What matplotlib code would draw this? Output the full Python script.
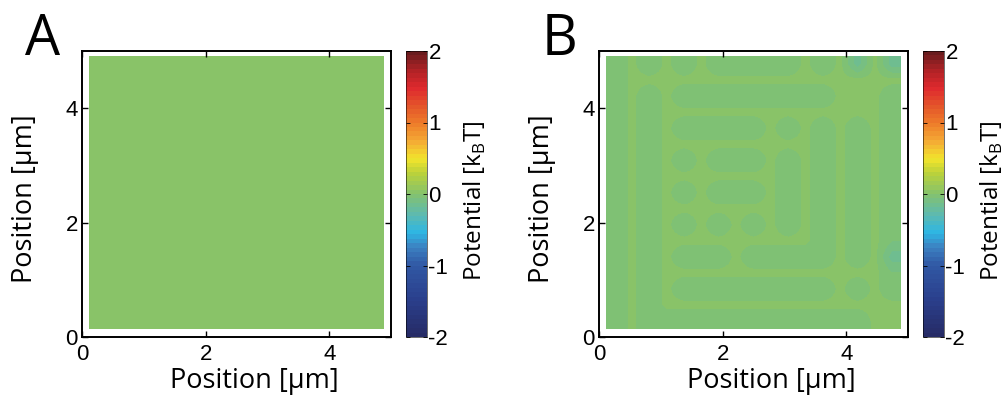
import numpy as np
import matplotlib
matplotlib.use("Agg")
import matplotlib.pyplot as plt
from matplotlib.colors import LinearSegmentedColormap

plt.rcParams['font.family'] = ['Liberation Sans', 'DejaVu Sans']
plt.rcParams['mathtext.fontset'] = 'custom'
plt.rcParams['mathtext.rm'] = 'Open Sans'
plt.rcParams['axes.unicode_minus'] = False

# text / ticks
panel_labels = ['A', 'B']
axis_label = 'Position [µm]'
cbar_label = r'Potential [k$_\mathregular{B}$T]'
pos_ticks = [0, 2, 4]
cbar_ticks = [-2, -1, 0, 1, 2]

# panel A: flat potential (kT)
potential_a = [[0.0]]

# panel B: residual potential on a 17x17 grid
# '.' light green, 'o' slightly lower, 't' teal spots
levels_b = {'.': 0.02, 'o': -0.06, 't': -0.16}
rows_b = [
    "o.o.o.ooooo.o.t.t",
    "o................",
    "o.o.ooooooooo...o",
    "o.o.............o",
    "o.o.ooooo.o.o.o.o",
    "o.o.........o.o.o",
    "o.o.o.ooo.o.o.o.o",
    "o.o.......o.o.o.o",
    "o.o.o.ooo.o.o.o.o",
    "o.o.......o.o.o.o",
    "o.o.o.o.o.o.o.o.o",
    "o.o.........o.o.o",
    "o.o.ooo.ooooo.o.t",
    "o.o.............o",
    "o.o.ooooooooo.o.o",
    "o.o..............",
    "o.ooooooooooooo..",
]
potential_b = [[levels_b[ch] for ch in row] for row in rows_b]

# colormap (value, colour)
cmap_points = [
    (-2.0, '#262b66'), (-1.5, '#2a3f8c'), (-1.0, '#3159a5'), (-0.75, '#3c82c2'),
    (-0.55, '#2db6e4'), (-0.3, '#5dbab0'), (0.0, '#84c26e'), (0.3, '#bcd23a'),
    (0.5, '#f2e42c'), (0.75, '#f4a935'), (1.0, '#ee7d2a'), (1.25, '#e4552a'),
    (1.5, '#df2a2e'), (1.75, '#b02226'), (2.0, '#6a1c1e'),
]
cmap = LinearSegmentedColormap.from_list(
    'pot', [((v + 2) / 4.0, c) for v, c in cmap_points], N=64)

W, H = 1004, 400
fig = plt.figure(figsize=(W / 100, H / 100), dpi=100)
label_font = ['Open Sans', 'DejaVu Sans']

def px(x, y):
    return x / W, 1 - y / H

def draw_panel(x0, data, letter):
    ax = fig.add_axes([x0 / W, 1 - 337 / H, 309 / W, 286 / H])
    im = ax.imshow(np.array(data), cmap=cmap, vmin=-2, vmax=2, origin='upper',
                   extent=[0.12, 4.88, 0.14, 4.9], interpolation='bilinear',
                   aspect='auto')
    ax.set_xlim(0, 5)
    ax.set_ylim(0, 5)
    ax.set_xticks(pos_ticks)
    ax.set_yticks(pos_ticks)
    ax.tick_params(direction='in', top=True, right=True, length=4, width=1,
                   labelsize=16)
    ax.tick_params(axis='x', pad=5)
    ax.tick_params(axis='y', pad=3)
    for s in ax.spines.values():
        s.set_linewidth(1.4)

    cax = fig.add_axes([(x0 + 324) / W, 1 - 337 / H, 21 / W, 286 / H])
    cb = fig.colorbar(im, cax=cax, ticks=cbar_ticks)
    cb.outline.set_linewidth(0.4)
    cax.tick_params(direction='in', left=True, right=True, length=3, width=0.6,
                    labelsize=16, pad=1)

    fig.text(*px(x0 - 57, 199), axis_label, family=label_font,
             fontsize=19.5, rotation=90, ha='center', va='center')
    fig.text(*px(x0 + 172, 381), axis_label, family=label_font,
             fontsize=19.5, ha='center', va='center')
    fig.text(*px(x0 + 393, 201), cbar_label, family=label_font,
             fontsize=17.5, rotation=90, ha='center', va='center')
    fig.text(*px(x0 - 57, 55), letter, family=label_font,
             fontsize=40, ha='left', va='baseline')

draw_panel(82, potential_a, panel_labels[0])
draw_panel(599, potential_b, panel_labels[1])

fig.savefig('out.png', dpi=100)
